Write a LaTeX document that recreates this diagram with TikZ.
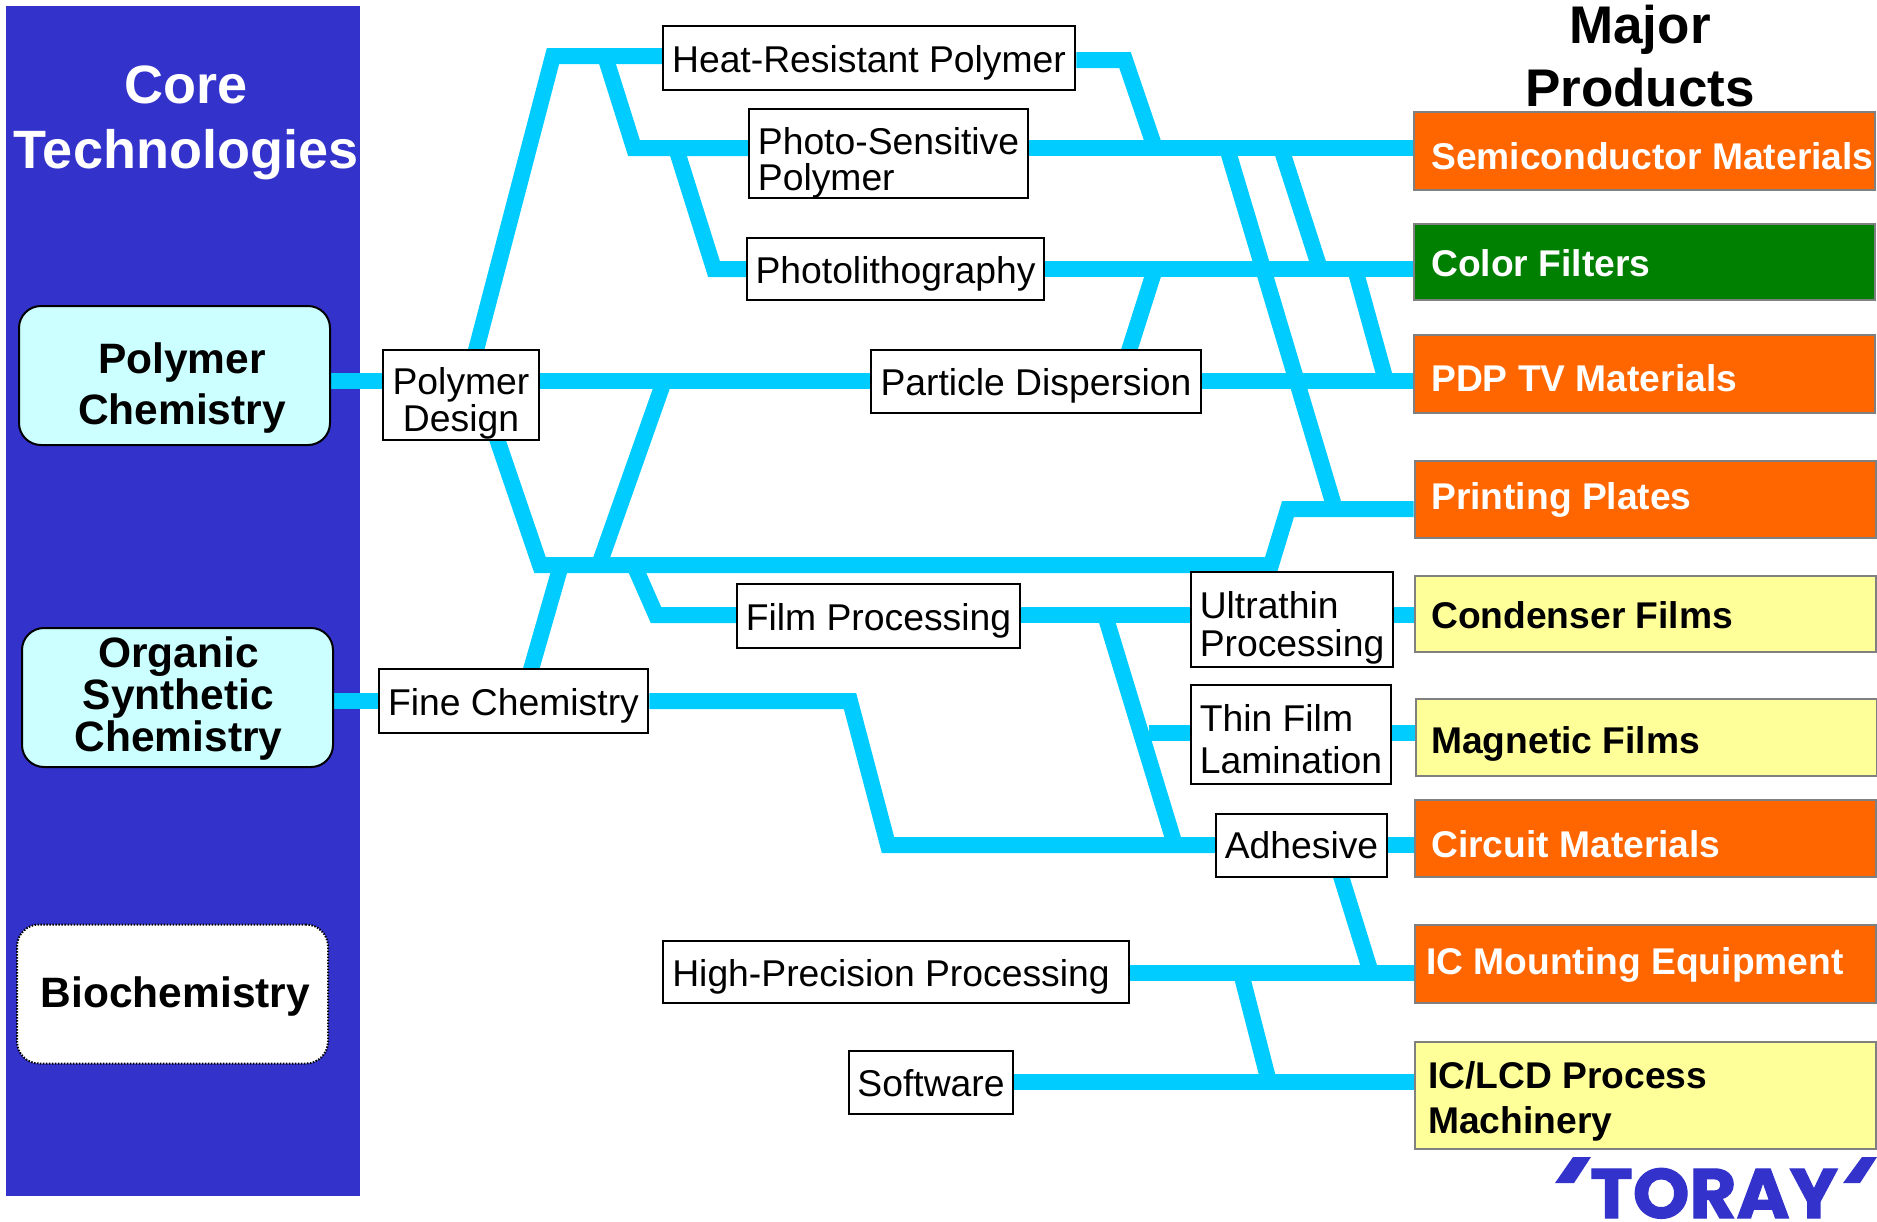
\documentclass[tikz,border=0pt]{standalone}
\usepackage{graphicx}
\usepackage{fontspec}
\setmainfont{Liberation Sans}
\newfontfamily\logofont[BoldFeatures={FakeBold=1.6}]{Poppins}
\newcommand{\lowerby}[1]{\rule{0pt}{#1pt}}
\pgfdeclarelayer{panel}
\pgfdeclarelayer{links}
\pgfsetlayers{panel,links,main}
\definecolor{panelblue}{HTML}{3333CC}
\definecolor{linkcyan}{HTML}{00CCFF}
\definecolor{palecyan}{HTML}{CCFFFF}
\definecolor{prodorange}{HTML}{FF6600}
\definecolor{prodgreen}{HTML}{008000}
\definecolor{prodyellow}{HTML}{FFFF99}
\tikzset{
  x=1pt,y=-1pt,
  link/.style={draw=linkcyan,line width=16pt,line join=miter},
  techbox/.style={draw=black,fill=white,line width=2.5pt,inner sep=0pt,align=center,font=\fontsize{37.3}{37}\selectfont},
  techleft/.style={techbox,align=left},
  corebox/.style={draw=black,line width=2pt,fill=palecyan,rounded corners=22pt,inner sep=0pt,minimum width=311pt,minimum height=139pt},
  coretext/.style={inner sep=0pt,align=center},
  prodbox/.style={draw=black!50,line width=2pt,inner sep=0pt,minimum width=461pt},
  prodtext/.style={anchor=west,inner sep=0pt,font=\fontsize{37.2}{37}\bfseries\selectfont,align=left},
  whitetext/.style={prodtext,text=white},
  headtext/.style={inner sep=0pt,align=center}
}
\begin{document}
\begin{tikzpicture}
\useasboundingbox (0,0) rectangle (1877,1221);
\begin{pgfonlayer}{panel}
  \fill[panelblue] (6,6) rectangle (360,1196);
\end{pgfonlayer}
\node[headtext,text=white,font=\fontsize{54}{65}\bfseries\selectfont] (core) at (186,123) {Core\\Technologies};
\node[headtext,font=\fontsize{53}{63}\bfseries\selectfont] (major) at (1640,56) {Major\\Products};

\node[corebox] (polchem) at (174.5,375.5) {};
\node[corebox] (orgchem) at (177.5,697.5) {};
\node[corebox,fill=white,line width=2pt,dash pattern=on 1.5pt off 1.5pt] (biochem) at (172.5,994) {};
\node[coretext,font=\fontsize{42.5}{51}\bfseries\selectfont] (tpolchem) at (182,388) {Polymer\\Chemistry};
\node[coretext,font=\fontsize{42.5}{42}\bfseries\selectfont] (torgchem) at (178.5,698.5) {Organic\\Synthetic\\Chemistry};
\node[coretext,font=\fontsize{42.5}{42}\bfseries\selectfont] (tbiochem) at (175.5,996) {Biochemistry};

\node[techbox,minimum width=156pt,minimum height=90pt] (design) at (461,395) {\lowerby{43}Polymer\\Design};
\node[techbox,minimum width=269pt,minimum height=64pt] (fine) at (513.5,701) {\lowerby{37}Fine Chemistry};
\node[techbox,minimum width=412pt,minimum height=64pt] (heat) at (869,58) {\lowerby{37}Heat-Resistant Polymer};
\node[techleft,minimum width=279pt,minimum height=89pt] (photosens) at (888.5,153.5) {\lowerby{45}Photo-Sensitive\\[-1pt]Polymer};
\node[techbox,minimum width=297pt,minimum height=62pt] (litho) at (895.5,269) {\lowerby{37}Photolithography};
\node[techbox,minimum width=330pt,minimum height=63pt] (particle) at (1036,381.5) {\lowerby{35}Particle Dispersion};
\node[techbox,minimum width=283pt,minimum height=64pt] (film) at (878.5,616) {\lowerby{37}Film Processing};
\node[techleft,minimum width=202pt,minimum height=95pt] (ultra) at (1292,619.5) {\lowerby{43}Ultrathin\\[1pt]Processing};
\node[techleft,minimum width=200pt,minimum height=99pt] (thin) at (1291,734.5) {\lowerby{37}Thin Film\\[5pt]Lamination};
\node[techbox,minimum width=171pt,minimum height=63pt] (adhesive) at (1301.5,845.5) {Adhesive};
\node[techbox,minimum width=466pt,minimum height=62pt] (precision) at (896,972) {\lowerby{37}High-Precision Processing\hspace*{10pt}};
\node[techbox,minimum width=164pt,minimum height=63pt] (software) at (931,1082.5) {\lowerby{29}Software};

\node[prodbox,fill=prodorange,minimum height=78pt] (semi) at (1644.5,150.5) {};
\node[prodbox,fill=prodgreen,minimum height=76pt] (color) at (1644.5,262) {};
\node[prodbox,fill=prodorange,minimum height=78pt] (pdp) at (1644.5,374) {};
\node[prodbox,fill=prodorange,minimum height=77pt] (plates) at (1645,499) {};
\node[prodbox,fill=prodyellow,minimum height=76pt] (condenser) at (1645,614) {};
\node[prodbox,fill=prodyellow,minimum height=77pt] (magnetic) at (1646,737.5) {};
\node[prodbox,fill=prodorange,minimum height=77pt] (circuit) at (1645,838.5) {};
\node[prodbox,fill=prodorange,minimum height=78pt] (mounting) at (1645,963.5) {};
\node[prodbox,fill=prodyellow,minimum height=107pt] (machinery) at (1645,1095.5) {};

\node[whitetext] (tsemi) at (1431,156) {Semiconductor Materials};
\node[whitetext] (tcolor) at (1431,263) {Color Filters};
\node[whitetext] (tpdp) at (1431,378) {PDP TV Materials};
\node[whitetext] (tplates) at (1431,499.5) {Printing Plates};
\node[prodtext] (tcond) at (1431,615) {Condenser Films};
\node[prodtext] (tmag) at (1431,743.5) {Magnetic Films};
\node[whitetext] (tcirc) at (1431,844) {Circuit Materials};
\node[whitetext] (tmount) at (1426,964.5) {IC Mounting Equipment};
\node[prodtext,font=\fontsize{37.2}{45.5}\bfseries\selectfont] (tmach) at (1428,1101.5) {IC/LCD Process\\Machinery};

\coordinate (y56) at (0,56);
\coordinate (y148) at (0,148);
\coordinate (y269) at (0,269);
\coordinate (y381) at (0,381);
\coordinate (y509) at (0,509);
\coordinate (y615) at (0,615);
\coordinate (y701) at (0,701);
\coordinate (y733) at (0,733);
\coordinate (y845) at (0,845);
\coordinate (y973) at (0,973);
\coordinate (y1082) at (0,1082);

\coordinate (designtop) at (475,354);
\coordinate (heatcorner) at (553,56);
\coordinate (heatsplit) at (605,56);
\coordinate (pscorner) at (634,148);
\coordinate (pssplit) at (676,148);
\coordinate (lithocorner) at (714,269);
\coordinate (heatbend) at (1125,60);
\coordinate (heatjoin) at (1155,148);
\coordinate (semisplitA) at (1227,148);
\coordinate (platesjoin) at (1335,509);
\coordinate (semisplitB) at (1281,148);
\coordinate (colorjoin) at (1320,269);
\coordinate (colorsplit) at (1355,269);
\coordinate (pdpjoin) at (1386,381);
\coordinate (particlejoin) at (1155,269);
\coordinate (particletop) at (1128,354);
\coordinate (designjoin) at (664,381);
\coordinate (busmeet) at (599,565);
\coordinate (designbottom) at (496,436);
\coordinate (busstart) at (540,565);
\coordinate (busend) at (1271,565);
\coordinate (platesbend) at (1288,509);
\coordinate (finetop) at (530,673);
\coordinate (busfine) at (561,565);
\coordinate (filmsplit) at (634,565);
\coordinate (filmcorner) at (656,615);
\coordinate (adhsplit) at (1105,615);
\coordinate (adhjoin) at (1175,845);
\coordinate (thinjoin) at (1149,733);
\coordinate (finebend) at (850,701);
\coordinate (finecorner) at (888,845);
\coordinate (adhbottom) at (1340,873);
\coordinate (mountjoin) at (1371,973);
\coordinate (precsplit) at (1241,973);
\coordinate (softjoin) at (1269,1082);

\begin{pgfonlayer}{links}
  \draw[link] (polchem.east |- y381) -- (design.west |- y381);
  \draw[link] (orgchem.east |- y701) -- (fine.west |- y701);
  \draw[link] (designtop) -- (heatcorner) -- (heat.west |- y56);
  \draw[link] (heatsplit) -- (pscorner) -- (photosens.west |- y148);
  \draw[link] (pssplit) -- (lithocorner) -- (litho.west |- y269);
  \draw[link] (heat.east |- heatbend) -- (heatbend) -- (heatjoin);
  \draw[link] (photosens.east |- y148) -- (semi.west |- y148);
  \draw[link] (litho.east |- y269) -- (color.west |- y269);
  \draw[link] (design.east |- y381) -- (particle.west |- y381);
  \draw[link] (particle.east |- y381) -- (pdp.west |- y381);
  \draw[link] (semisplitA) -- (platesjoin);
  \draw[link] (semisplitB) -- (colorjoin);
  \draw[link] (colorsplit) -- (pdpjoin);
  \draw[link] (particletop) -- (particlejoin);
  \draw[link] (designjoin) -- (busmeet);
  \draw[link] (designbottom) -- (busstart) -- (busend) -- (platesbend) -- (plates.west |- y509);
  \draw[link] (finetop) -- (busfine);
  \draw[link] (filmsplit) -- (filmcorner) -- (film.west |- y615);
  \draw[link] (film.east |- y615) -- (ultra.west |- y615);
  \draw[link] (ultra.east |- y615) -- (condenser.west |- y615);
  \draw[link] (adhsplit) -- (adhjoin);
  \draw[link] (thinjoin) -- (thin.west |- y733);
  \draw[link] (thin.east |- y733) -- (magnetic.west |- y733);
  \draw[link] (fine.east |- y701) -- (finebend) -- (finecorner) -- (adhesive.west |- y845);
  \draw[link] (adhesive.east |- y845) -- (circuit.west |- y845);
  \draw[link] (adhbottom) -- (mountjoin);
  \draw[link] (precision.east |- y973) -- (mounting.west |- y973);
  \draw[link] (precsplit) -- (softjoin);
  \draw[link] (software.east |- y1082) -- (machinery.west |- y1082);
\end{pgfonlayer}

\node[anchor=base west,inner sep=0pt,text=panelblue,font=\logofont\bfseries\fontsize{70}{70}\selectfont] (toray) at (1590,1218) {\scalebox{1.03}[1]{TORAY}};
\fill[panelblue] (1555,1183) -- (1573,1157) -- (1591,1157) -- (1574,1183) -- cycle;
\fill[panelblue] (1843,1183) -- (1862,1157) -- (1877,1157) -- (1860,1183) -- cycle;
\end{tikzpicture}
\end{document}
